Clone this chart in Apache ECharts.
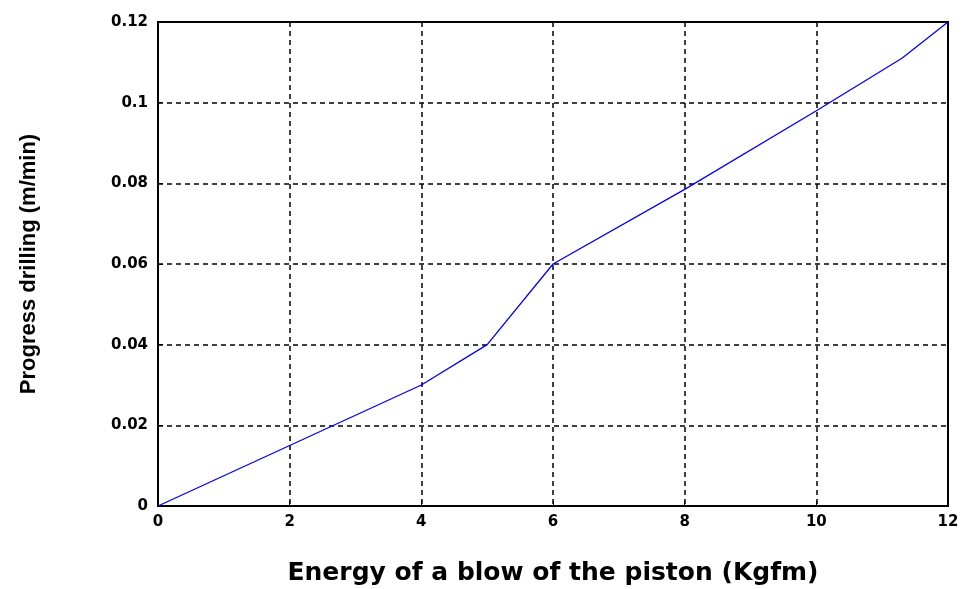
<!DOCTYPE html>
<html>
<head>
<meta charset="utf-8">
<script src="https://cdn.jsdelivr.net/npm/echarts@6/dist/echarts.min.js"></script>
<style>
  html, body { margin: 0; padding: 0; background: #fff; }
  #chart { width: 964px; height: 589px; }
</style>
</head>
<body>
<div id="chart"></div>
<script>
// energy of a blow (Kgfm) vs progress drilling (m/min)
const energy = [0, 2, 4, 5, 6, 8, 10, 11.3, 12];
const progress = [0, 0.015, 0.03, 0.04, 0.06, 0.0785, 0.098, 0.111, 0.12];

const data = energy.map((x, i) => [x, progress[i]]);

const chart = echarts.init(document.getElementById('chart'));

const labelStyle = {
  color: '#000',
  fontWeight: 'bold',
  fontSize: 15,
  fontFamily: 'DejaVu Sans'
};
const dashed = {
  show: true,
  lineStyle: { color: '#000', type: [5, 4], width: 1.5 }
};

chart.setOption({
  animation: false,
  grid: {
    left: 158, right: 16, top: 22, bottom: 83,
    outerBoundsMode: 'none',
    containLabel: false,
    show: true, borderColor: '#000', borderWidth: 2
  },
  xAxis: {
    type: 'value',
    min: 0, max: 12, interval: 2,
    name: 'Energy of a blow of the piston (Kgfm)',
    nameLocation: 'middle',
    nameGap: 55,
    nameTextStyle: { color: '#000', fontWeight: 'bold', fontSize: 25, fontFamily: 'DejaVu Sans' },
    axisLine: { show: true, lineStyle: { color: '#000', width: 2 } },
    axisTick: { show: true, inside: true, length: 5, lineStyle: { color: '#000' } },
    axisLabel: Object.assign({ margin: 9 }, labelStyle),
    splitLine: dashed
  },
  yAxis: {
    type: 'value',
    min: 0, max: 0.12, interval: 0.02,
    name: 'Progress drilling (m/min)',
    nameLocation: 'middle',
    nameGap: 118,
    nameTextStyle: { color: '#000', fontSize: 22, fontWeight: 'bold', fontFamily: 'Liberation Sans' },
    axisLine: { show: true, lineStyle: { color: '#000', width: 2 } },
    axisTick: { show: true, inside: true, length: 5, lineStyle: { color: '#000' } },
    axisLabel: Object.assign({ margin: 10 }, labelStyle),
    splitLine: dashed
  },
  series: [{
    type: 'line',
    data: data,
    showSymbol: false,
    lineStyle: { color: '#0000ff', width: 1.3 }
  }]
});
</script>
</body>
</html>
